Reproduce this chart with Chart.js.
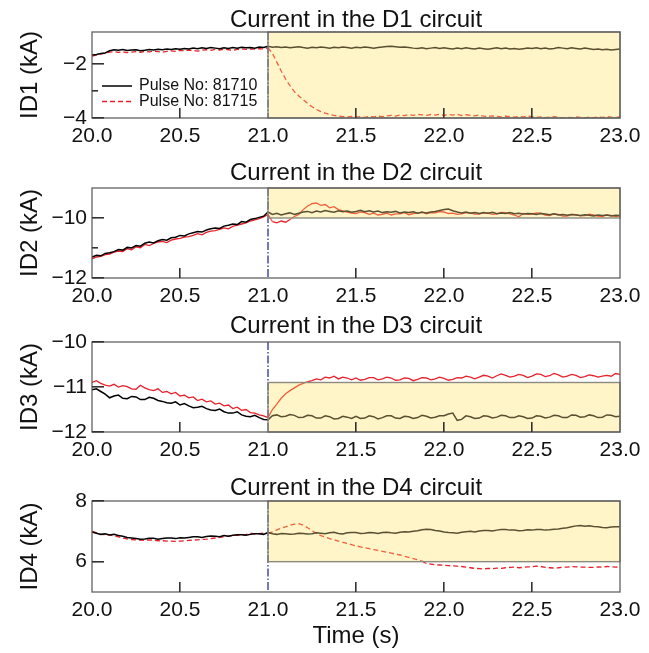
<!DOCTYPE html>
<html>
<head>
<meta charset="utf-8">
<script src="https://cdn.jsdelivr.net/npm/chart.js@4.4.0/dist/chart.umd.min.js"></script>
<style>
body { margin: 0; background: #fff; }
canvas { position: absolute; left: 0; }
</style>
</head>
<body>
<canvas id="c1" width="649" height="155" style="top:0"></canvas>
<canvas id="c2" width="649" height="155" style="top:155px"></canvas>
<canvas id="c3" width="649" height="155" style="top:310px"></canvas>
<canvas id="c4" width="649" height="188" style="top:465px"></canvas>
<script>
// time axis (s), 25 ms samples
var times = [
  20.000, 20.025, 20.050, 20.075, 20.100, 20.125, 20.150, 20.175, 20.200, 20.225, 20.250, 20.275, 20.300, 20.325, 20.350, 20.375, 20.400, 20.425, 20.450, 20.475,
  20.500, 20.525, 20.550, 20.575, 20.600, 20.625, 20.650, 20.675, 20.700, 20.725, 20.750, 20.775, 20.800, 20.825, 20.850, 20.875, 20.900, 20.925, 20.950, 20.975,
  21.000, 21.025, 21.050, 21.075, 21.100, 21.125, 21.150, 21.175, 21.200, 21.225, 21.250, 21.275, 21.300, 21.325, 21.350, 21.375, 21.400, 21.425, 21.450, 21.475,
  21.500, 21.525, 21.550, 21.575, 21.600, 21.625, 21.650, 21.675, 21.700, 21.725, 21.750, 21.775, 21.800, 21.825, 21.850, 21.875, 21.900, 21.925, 21.950, 21.975,
  22.000, 22.025, 22.050, 22.075, 22.100, 22.125, 22.150, 22.175, 22.200, 22.225, 22.250, 22.275, 22.300, 22.325, 22.350, 22.375, 22.400, 22.425, 22.450, 22.475,
  22.500, 22.525, 22.550, 22.575, 22.600, 22.625, 22.650, 22.675, 22.700, 22.725, 22.750, 22.775, 22.800, 22.825, 22.850, 22.875, 22.900, 22.925, 22.950, 22.975,
  23.000
];
var xTicks = [20.0, 20.5, 21.0, 21.5, 22.0, 22.5, 23.0];
var pulseLabels = ['Pulse No: 81710', 'Pulse No: 81715'];
var titles = ['Current in the D1 circuit', 'Current in the D2 circuit', 'Current in the D3 circuit', 'Current in the D4 circuit'];
var yTitles = ['ID1 (kA)', 'ID2 (kA)', 'ID3 (kA)', 'ID4 (kA)'];

// currents (kA)
var id1_81710 = [
  -1.66, -1.64, -1.60, -1.58, -1.50, -1.46, -1.48, -1.45, -1.49, -1.47, -1.46, -1.50, -1.48, -1.45, -1.47, -1.44, -1.46, -1.43, -1.45, -1.42,
  -1.44, -1.41, -1.43, -1.40, -1.42, -1.39, -1.41, -1.38, -1.40, -1.42, -1.39, -1.41, -1.38, -1.40, -1.37, -1.39, -1.38, -1.40, -1.36, -1.38,
  -1.33, -1.37, -1.35, -1.38, -1.36, -1.39, -1.37, -1.35, -1.38, -1.40, -1.37, -1.39, -1.36, -1.38, -1.40, -1.37, -1.39, -1.36, -1.38, -1.40,
  -1.37, -1.39, -1.36, -1.38, -1.40, -1.38, -1.36, -1.34, -1.33, -1.35, -1.37, -1.36, -1.38, -1.40, -1.41, -1.39, -1.42, -1.40, -1.38, -1.41,
  -1.39, -1.41, -1.43, -1.40, -1.42, -1.39, -1.41, -1.43, -1.40, -1.42, -1.44, -1.41, -1.39, -1.42, -1.40, -1.43, -1.41, -1.44, -1.42, -1.40,
  -1.41, -1.39, -1.42, -1.40, -1.43, -1.41, -1.38, -1.40, -1.42, -1.39, -1.41, -1.43, -1.40, -1.42, -1.45, -1.43, -1.46, -1.44, -1.47, -1.45,
  -1.43
];
var id1_81715 = [
  -1.70, -1.66, -1.62, -1.58, -1.55, -1.53, -1.56, -1.54, -1.57, -1.55, -1.53, -1.56, -1.52, -1.54, -1.51, -1.53, -1.55, -1.52, -1.50, -1.52,
  -1.48, -1.50, -1.47, -1.49, -1.51, -1.48, -1.46, -1.48, -1.45, -1.47, -1.44, -1.46, -1.48, -1.45, -1.43, -1.45, -1.43, -1.44, -1.42, -1.43,
  -1.38, -1.60, -1.92, -2.25, -2.55, -2.80, -3.02, -3.18, -3.32, -3.46, -3.58, -3.68, -3.76, -3.82, -3.87, -3.90, -3.93, -3.95, -3.96, -3.94,
  -3.97, -3.95, -3.98, -3.94, -3.96, -3.93, -3.95, -3.92, -3.90, -3.93, -3.89, -3.91, -3.87, -3.90, -3.86, -3.88, -3.90, -3.87, -3.89, -3.86,
  -3.90, -3.87, -3.89, -3.86, -3.91, -3.88, -3.90, -3.92, -3.89, -3.93, -3.95, -3.92, -3.94, -3.96, -3.93, -3.95, -3.97, -3.94, -3.96, -3.93,
  -3.95, -3.98, -3.96, -3.99, -3.97, -3.95, -3.98, -4.00, -3.97, -3.99, -3.96, -3.98, -4.00, -3.97, -3.99, -3.96, -3.98, -3.95, -3.97, -3.99,
  -3.95
];
var id2_81710 = [
  -11.30, -11.24, -11.26, -11.18, -11.16, -11.12, -11.05, -11.07, -10.98, -11.00, -10.92, -10.94, -10.84, -10.80, -10.83, -10.76, -10.72, -10.74, -10.66, -10.64,
  -10.58, -10.60, -10.53, -10.49, -10.45, -10.47, -10.40, -10.36, -10.33, -10.35, -10.27, -10.24, -10.20, -10.22, -10.12, -10.14, -10.05, -10.02, -9.98, -9.94,
  -9.80, -9.88, -9.84, -9.90, -9.86, -9.83, -9.88, -9.84, -9.80, -9.78, -9.82, -9.77, -9.80, -9.75, -9.78, -9.81, -9.76, -9.79, -9.77, -9.81,
  -9.78, -9.74, -9.79, -9.76, -9.80, -9.77, -9.82, -9.79, -9.81, -9.78, -9.83, -9.80, -9.82, -9.79, -9.84, -9.81, -9.83, -9.80, -9.78, -9.75,
  -9.72, -9.70, -9.76, -9.80, -9.83, -9.80, -9.84, -9.82, -9.85, -9.82, -9.84, -9.81, -9.86, -9.83, -9.85, -9.82, -9.86, -9.84, -9.87, -9.85,
  -9.86, -9.88, -9.85, -9.87, -9.89, -9.86, -9.90, -9.88, -9.91, -9.88, -9.90, -9.92, -9.89, -9.91, -9.93, -9.90, -9.92, -9.90, -9.93, -9.91,
  -9.92
];
var id2_81715 = [
  -11.36, -11.30, -11.28, -11.22, -11.20, -11.14, -11.10, -11.12, -11.02, -11.06, -10.96, -10.99, -10.88, -10.92, -10.85, -10.80, -10.78, -10.82, -10.74, -10.70,
  -10.68, -10.64, -10.62, -10.58, -10.52, -10.56, -10.48, -10.44, -10.42, -10.38, -10.33, -10.36, -10.28, -10.24, -10.20, -10.16, -10.10, -10.06, -10.02, -9.96,
  -9.88, -10.12, -10.16, -10.10, -10.14, -10.05, -9.95, -9.88, -9.72, -9.60, -9.52, -9.50, -9.58, -9.55, -9.66, -9.62, -9.72, -9.76, -9.80, -9.84,
  -9.85, -9.80, -9.82, -9.88, -9.84, -9.90, -9.88, -9.84, -9.90, -9.86, -9.86, -9.82, -9.89, -9.85, -9.84, -9.80, -9.86, -9.82, -9.83, -9.79,
  -9.80, -9.85, -9.84, -9.88, -9.86, -9.82, -9.83, -9.87, -9.87, -9.83, -9.84, -9.88, -9.86, -9.81, -9.82, -9.86, -9.90, -9.96, -9.85, -9.88,
  -9.87, -9.83, -9.84, -9.90, -9.92, -9.86, -9.88, -9.94, -9.94, -9.88, -9.89, -9.93, -9.92, -9.87, -9.90, -9.94, -9.95, -9.90, -9.91, -9.95,
  -9.93
];
var id3_81710 = [
  -11.06, -11.04, -11.10, -11.16, -11.24, -11.20, -11.18, -11.25, -11.26, -11.21, -11.22, -11.28, -11.28, -11.23, -11.25, -11.30, -11.32, -11.35, -11.36, -11.33,
  -11.40, -11.37, -11.42, -11.46, -11.45, -11.43, -11.48, -11.51, -11.52, -11.49, -11.55, -11.58, -11.58, -11.55, -11.62, -11.65, -11.66, -11.63, -11.68, -11.72,
  -11.73, -11.64, -11.62, -11.66, -11.65, -11.61, -11.63, -11.68, -11.67, -11.63, -11.64, -11.69, -11.69, -11.64, -11.66, -11.71, -11.70, -11.65, -11.67, -11.70,
  -11.65, -11.70, -11.69, -11.64, -11.66, -11.71, -11.68, -11.64, -11.64, -11.69, -11.70, -11.65, -11.66, -11.70, -11.68, -11.63, -11.65, -11.69, -11.67, -11.64,
  -11.64, -11.60, -11.58, -11.74, -11.72, -11.64, -11.66, -11.70, -11.69, -11.64, -11.65, -11.69, -11.67, -11.63, -11.64, -11.68, -11.68, -11.64, -11.66, -11.70,
  -11.69, -11.64, -11.65, -11.69, -11.67, -11.63, -11.64, -11.68, -11.68, -11.62, -11.63, -11.67, -11.66, -11.62, -11.64, -11.68, -11.67, -11.62, -11.63, -11.66,
  -11.65
];
var id3_81715 = [
  -10.90, -10.86, -10.92, -10.96, -10.98, -10.94, -11.00, -10.97, -10.99, -11.04, -11.05, -10.96, -11.02, -11.06, -11.08, -11.04, -11.12, -11.10, -11.15, -11.12,
  -11.20, -11.18, -11.24, -11.22, -11.30, -11.27, -11.33, -11.31, -11.38, -11.36, -11.42, -11.40, -11.48, -11.45, -11.52, -11.50, -11.57, -11.58, -11.62, -11.64,
  -11.68, -11.50, -11.38, -11.25, -11.15, -11.08, -11.02, -10.96, -10.92, -10.88, -10.86, -10.82, -10.84, -10.78, -10.80, -10.76, -10.82, -10.78, -10.80, -10.84,
  -10.80, -10.85, -10.83, -10.79, -10.79, -10.84, -10.82, -10.78, -10.80, -10.85, -10.84, -10.80, -10.81, -10.86, -10.83, -10.79, -10.80, -10.84, -10.82, -10.78,
  -10.81, -10.85, -10.83, -10.79, -10.80, -10.76, -10.78, -10.82, -10.78, -10.74, -10.76, -10.80, -10.75, -10.71, -10.74, -10.78, -10.76, -10.72, -10.74, -10.79,
  -10.76, -10.71, -10.72, -10.77, -10.75, -10.70, -10.73, -10.78, -10.76, -10.72, -10.74, -10.79, -10.77, -10.73, -10.75, -10.78, -10.76, -10.74, -10.76, -10.70,
  -10.72
];
var id4_81710 = [
  6.98, 6.94, 6.90, 6.92, 6.88, 6.90, 6.86, 6.84, 6.80, 6.78, 6.76, 6.74, 6.75, 6.77, 6.77, 6.74, 6.76, 6.78, 6.78, 6.76,
  6.79, 6.78, 6.80, 6.82, 6.82, 6.80, 6.83, 6.85, 6.84, 6.82, 6.86, 6.84, 6.87, 6.89, 6.89, 6.87, 6.90, 6.92, 6.92, 6.90,
  6.96, 6.92, 6.90, 6.93, 6.92, 6.90, 6.91, 6.94, 6.93, 6.91, 6.92, 6.95, 6.94, 6.92, 6.95, 6.97, 6.93, 6.91, 6.95, 6.96,
  6.96, 6.93, 6.94, 6.96, 6.95, 6.93, 6.96, 6.97, 6.95, 6.94, 6.97, 6.99, 6.98, 7.00, 7.02, 7.05, 7.07, 7.06, 7.03, 7.01,
  6.98, 6.96, 6.95, 6.94, 6.97, 6.99, 7.00, 6.98, 7.01, 7.03, 7.03, 7.01, 7.04, 7.06, 7.06, 7.04, 7.04, 7.02, 7.03, 7.05,
  7.04, 7.06, 7.06, 7.04, 7.05, 7.07, 7.08, 7.10, 7.12, 7.15, 7.18, 7.19, 7.17, 7.18, 7.16, 7.15, 7.13, 7.12, 7.14, 7.15,
  7.15
];
var id4_81715 = [
  7.00, 6.96, 6.90, 6.89, 6.88, 6.85, 6.82, 6.78, 6.75, 6.73, 6.72, 6.71, 6.70, 6.72, 6.71, 6.69, 6.69, 6.68, 6.68, 6.67,
  6.68, 6.69, 6.70, 6.71, 6.72, 6.73, 6.74, 6.76, 6.78, 6.80, 6.82, 6.84, 6.86, 6.87, 6.88, 6.90, 6.93, 6.92, 6.92, 6.94,
  6.93, 6.98, 7.05, 7.10, 7.15, 7.20, 7.24, 7.25, 7.20, 7.12, 7.02, 6.94, 6.86, 6.81, 6.76, 6.72, 6.68, 6.64, 6.60, 6.56,
  6.52, 6.49, 6.46, 6.43, 6.40, 6.37, 6.34, 6.31, 6.28, 6.25, 6.22, 6.18, 6.14, 6.10, 6.06, 6.02, 5.94, 5.92, 5.90, 5.89,
  5.88, 5.87, 5.86, 5.85, 5.84, 5.82, 5.80, 5.78, 5.77, 5.76, 5.78, 5.77, 5.79, 5.78, 5.80, 5.81, 5.82, 5.80, 5.81, 5.83,
  5.83, 5.85, 5.84, 5.81, 5.80, 5.79, 5.80, 5.82, 5.82, 5.84, 5.83, 5.82, 5.82, 5.81, 5.81, 5.83, 5.82, 5.84, 5.83, 5.82,
  5.83
];

var yRanges = [[-4, -0.8], [-12, -9], [-12, -10], [5, 8]];
var yTickLabels = [[-2, -4], [-10, -12], [-10, -11, -12], [8, 6]];
var yMinorTicks = [[-3], [-11], [], []];
var boxRanges = [[-4, -0.8], [-10, -9], [-12, -10.9], [6, 8]];
var xInnerTicks = [20.5, 21.5, 22.0, 22.5];
var shadeFrom = 21, shadeTo = 23;

var FONT = '"Liberation Sans", Arial, sans-serif';

function points(vals) {
  return vals.map(function (v, i) { return { x: times[i], y: v }; });
}

function tint(base, shade, box) {
  return function (ctx) {
    var mid = (ctx.p0.parsed.y + ctx.p1.parsed.y) / 2;
    if (ctx.p0.parsed.x >= shadeFrom && mid >= box[0] && mid <= box[1] + 0.02) return shade;
    return base;
  };
}

var decor = {
  id: 'decor',
  beforeDatasetsDraw: function (chart) {
    var k = chart.$panel, box = boxRanges[k];
    var c = chart.ctx, x = chart.scales.x, y = chart.scales.y;
    var l = x.getPixelForValue(shadeFrom), r = x.getPixelForValue(shadeTo);
    var t = y.getPixelForValue(box[1]), b = y.getPixelForValue(box[0]);
    c.save();
    c.fillStyle = '#fff5c9';
    c.fillRect(l, t, r - l, b - t);
    c.restore();
  },
  afterDraw: function (chart) {
    var k = chart.$panel, box = boxRanges[k];
    var c = chart.ctx, x = chart.scales.x, y = chart.scales.y, a = chart.chartArea;
    var l = x.getPixelForValue(shadeFrom), r = x.getPixelForValue(shadeTo);
    var t = y.getPixelForValue(box[1]), b = y.getPixelForValue(box[0]);
    c.save();
    // dash-dot marker at 21 s
    c.strokeStyle = '#2a2f95';
    c.lineWidth = 1.3;
    c.setLineDash([8, 2, 1.5, 2]);
    c.beginPath(); c.moveTo(l, a.top); c.lineTo(l, a.bottom); c.stroke();
    c.setLineDash([]);
    // shaded box outline
    c.strokeStyle = '#8c8a80';
    c.lineWidth = 1.4;
    c.strokeRect(l, t, r - l, b - t);
    // frame
    c.strokeStyle = '#555';
    c.lineWidth = 1.2;
    c.strokeRect(a.left, a.top, a.right - a.left, a.bottom - a.top);
    // inward ticks, filled as thin bars
    c.fillStyle = '#333';
    xInnerTicks.forEach(function (v) {
      var px = Math.round(x.getPixelForValue(v));
      c.fillRect(px - 1, a.bottom - 10, 1.6, 10);
    });
    yTickLabels[k].forEach(function (v) {
      var py = Math.round(y.getPixelForValue(v));
      c.fillRect(a.left, py - 1, 12, 1.6);
    });
    yMinorTicks[k].forEach(function (v) {
      var py = Math.round(y.getPixelForValue(v));
      c.fillRect(a.left, py - 1, 6, 1.6);
    });
    // title
    c.fillStyle = '#111';
    c.font = '24px ' + FONT;
    c.textAlign = 'center';
    c.textBaseline = 'alphabetic';
    c.fillText(titles[k], (a.left + a.right) / 2, chart.$titleY);
    // legend in the first panel
    if (k === 0) {
      c.font = '16px ' + FONT;
      c.textAlign = 'left';
      c.textBaseline = 'middle';
      chart.data.datasets.forEach(function (ds, j) {
        var ly = 86 + j * 15.5;
        c.strokeStyle = ds.borderColor;
        c.lineWidth = 1.5;
        c.setLineDash(ds.borderDash || []);
        c.beginPath(); c.moveTo(102, ly); c.lineTo(132, ly); c.stroke();
        c.fillStyle = '#111';
        c.fillText(ds.label, 139, ly);
      });
      c.setLineDash([]);
    }
    // figure code in the last panel
    if (k === 3) {
      c.translate(629, 561);
      c.rotate(-Math.PI / 2);
      c.font = '12.5px ' + FONT;
      c.textAlign = 'center';
      c.textBaseline = 'middle';
      c.fillStyle = '#222';
      c.fillText('JG12.231-2c', 0, 0);
    }
    c.restore();
  }
};

var panels = [
  { id: 'c1', top: 32, xh: 37, titleY: 27, black: id1_81710, red: id1_81715, dash: true },
  { id: 'c2', top: 33, xh: 32, titleY: 25, black: id2_81710, red: id2_81715, dash: false },
  { id: 'c3', top: 32, xh: 33, titleY: 23, black: id3_81710, red: id3_81715, dash: false },
  { id: 'c4', top: 36, xh: 61, titleY: 30, black: id4_81710, red: id4_81715, dash: true }
];

panels.forEach(function (p, i) {
  var box = boxRanges[i];
  new Chart(document.getElementById(p.id), {
    type: 'line',
    data: {
      datasets: [{
        label: pulseLabels[0],
        data: points(p.black),
        borderColor: '#000',
        borderWidth: 1.5,
        pointRadius: 0,
        segment: { borderColor: tint('#000', '#5a5030', box) }
      }, {
        label: pulseLabels[1],
        data: points(p.red),
        borderColor: '#e8202a',
        borderWidth: 1.3,
        borderDash: p.dash ? [5, 3] : [],
        pointRadius: 0,
        segment: { borderColor: tint('#e8202a', '#f0603c', box) }
      }]
    },
    options: {
      responsive: false,
      animation: false,
      events: [],
      layout: { padding: { top: p.top, right: 29, bottom: 0, left: 0 } },
      scales: {
        x: {
          type: 'linear',
          min: 20, max: 23,
          grid: { display: false, drawTicks: false },
          border: { display: false },
          afterBuildTicks: function (s) { s.ticks = xTicks.map(function (v) { return { value: v }; }); },
          afterFit: function (s) { s.height = p.xh; },
          ticks: {
            padding: 6,
            color: '#111',
            font: { family: FONT, size: 21 },
            maxRotation: 0,
            callback: function (v) { return v.toFixed(1); }
          },
          title: {
            display: i === 3,
            text: 'Time (s)',
            color: '#111',
            font: { family: FONT, size: 24 },
            padding: { top: 0, bottom: 2 }
          }
        },
        y: {
          min: yRanges[i][0], max: yRanges[i][1],
          grid: { display: false, drawTicks: false },
          border: { display: false },
          afterBuildTicks: function (s) { s.ticks = yTickLabels[i].map(function (v) { return { value: v }; }); },
          afterFit: function (s) { s.width = 92; },
          ticks: {
            padding: 5,
            color: '#111',
            font: { family: FONT, size: 21 },
            callback: function (v) { return v < 0 ? '\u2212' + Math.abs(v) : String(v); }
          },
          title: {
            display: true,
            text: yTitles[i],
            color: '#111',
            font: { family: FONT, size: 24 },
            padding: { top: 16, bottom: 0 }
          }
        }
      },
      plugins: {
        legend: { display: false },
        tooltip: { enabled: false }
      }
    },
    plugins: [{
      id: 'panelInfo',
      beforeInit: function (ch) { ch.$panel = i; ch.$titleY = p.titleY; }
    }, decor]
  });
});
</script>
</body>
</html>
